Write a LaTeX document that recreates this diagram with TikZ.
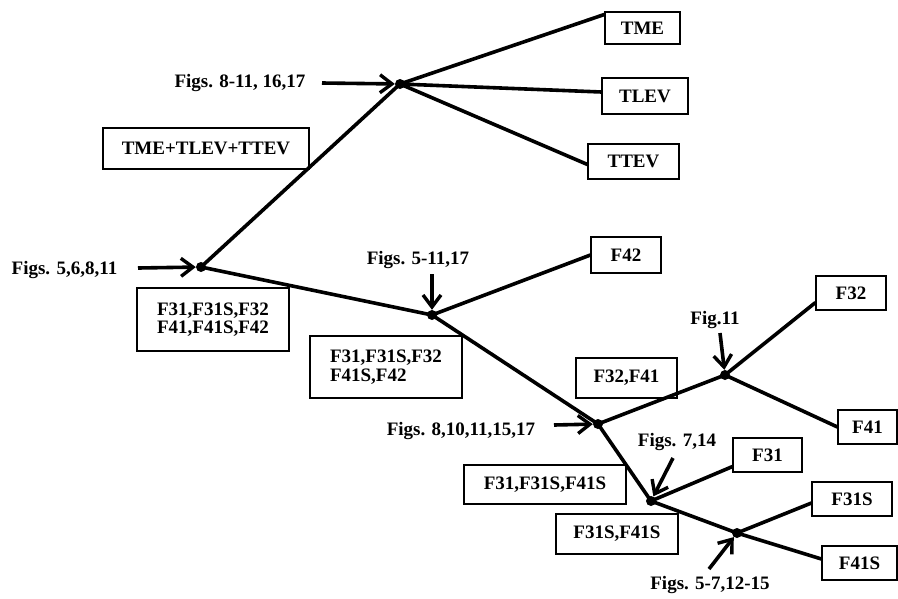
\documentclass[tikz,border=0pt]{standalone}
\usepackage{fontspec}
\setmainfont{Liberation Serif}
\usetikzlibrary{arrows.meta}
\begin{document}
\begin{tikzpicture}[x=1pt,y=-1pt,
  box/.style={draw,line width=1.1pt,inner sep=0pt,font=\fontsize{19}{18.5}\selectfont\bfseries},
  lab/.style={inner sep=0pt,font=\fontsize{19}{18.5}\selectfont\bfseries},
  dotn/.style={circle,fill,inner sep=0pt,minimum size=10pt},
  branch/.style={line width=3.6pt},
  fig/.style={line width=3.6pt,-{Straight Barb[length=12pt,width=18pt,line width=3.4pt]}}]
\useasboundingbox (0,0) rectangle (898,598);
% boxes
\node[box,minimum width=75pt,minimum height=32pt] (TME) at (642.5,28) {TME};
\node[box,minimum width=86pt,minimum height=36pt] (TLEV) at (645,96) {TLEV};
\node[box,minimum width=91pt,minimum height=35pt] (TTEV) at (633.5,161.5) {TTEV};
\node[box,minimum width=206pt,minimum height=41pt] (sum) at (206,148.5) {TME+TLEV+TTEV};
\node[box,minimum width=152pt,minimum height=63pt,align=center] (b1) at (213,319.5) {F31,F31S,F32\\F41,F41S,F42};
\node[box,minimum width=152pt,minimum height=62pt,align=left] (b2) at (386,367) {F31,F31S,F32\\F41S,F42};
\node[box,minimum width=70pt,minimum height=36pt] (F42) at (626,255) {F42};
\node[box,minimum width=70pt,minimum height=34pt] (F32) at (851,293) {F32};
\node[box,minimum width=101pt,minimum height=40pt] (b3) at (626.5,378) {F32,F41};
\node[box,minimum width=59pt,minimum height=34pt] (F41) at (867.5,427) {F41};
\node[box,minimum width=69pt,minimum height=34pt] (F31) at (767.5,455) {F31};
\node[box,minimum width=162pt,minimum height=39pt] (b4) at (545,484.5) {F31,F31S,F41S};
\node[box,minimum width=122pt,minimum height=40pt] (b5) at (617,534) {F31S,F41S};
\node[box,minimum width=80pt,minimum height=34pt] (F31S) at (852,499) {F31S};
\node[box,minimum width=75pt,minimum height=34pt] (F41S) at (859.5,563) {F41S};
% dots
\node[dotn] (A) at (400,84) {};
\node[dotn] (B) at (201,267) {};
\node[dotn] (C) at (432,315) {};
\node[dotn] (D) at (598,424) {};
\node[dotn] (E) at (725,375) {};
\node[dotn] (G) at (651,501) {};
\node[dotn] (H) at (737,533) {};
% branches
\draw[branch] (A.center) -- ([yshift=-3pt]TME.north west);
\draw[branch] (A.center) -- ([yshift=4pt]TLEV.west);
\draw[branch] (A.center) -- ([yshift=-3pt]TTEV.west);
\draw[branch] (B.center) -- (A.center);
\draw[branch] (B.center) -- (C.center);
\draw[branch] (C.center) -- (F42.west);
\draw[branch] (C.center) -- (D.center);
\draw[branch] (D.center) -- (E.center);
\draw[branch] (E.center) -- ([yshift=8pt]F32.south west);
\draw[branch] (E.center) -- (F41.west);
\draw[branch] (D.center) -- (G.center);
\draw[branch] (G.center) -- ([yshift=6pt]F31.south west);
\draw[branch] (G.center) -- (H.center);
\draw[branch] (H.center) -- ([yshift=-4pt]F31S.west);
\draw[branch] (H.center) -- ([yshift=4pt]F41S.west);
% figure labels
\node[lab] (L1) at (240,83) {Figs. 8-11, 16,17};
\node[lab] (L2) at (64.5,270) {Figs. 5,6,8,11};
\node[lab] (L3) at (418,260) {Figs. 5-11,17};
\node[lab] (L4) at (715,320) {Fig.11};
\node[lab] (L5) at (461,431) {Figs. 8,10,11,15,17};
\node[lab] (L6) at (677,442) {Figs. 7,14};
\node[lab] (L7) at (710,585) {Figs. 5-7,12-15};
\coordinate (s1) at (322,83);
\coordinate (s2) at (138,268);
\coordinate (s3) at (432,274);
\coordinate (s4) at (720,333);
\coordinate (s5) at (554,425);
\coordinate (s6) at (673,458);
\coordinate (s7) at (709,569);
\draw[fig] (s1) -- (A);
\draw[fig] (s2) -- (B);
\draw[fig] (s3) -- (C);
\draw[fig] (s4) -- (E);
\draw[fig] (s5) -- (D);
\draw[fig] (s6) -- (G);
\draw[fig] (s7) -- (H);
\end{tikzpicture}
\end{document}
